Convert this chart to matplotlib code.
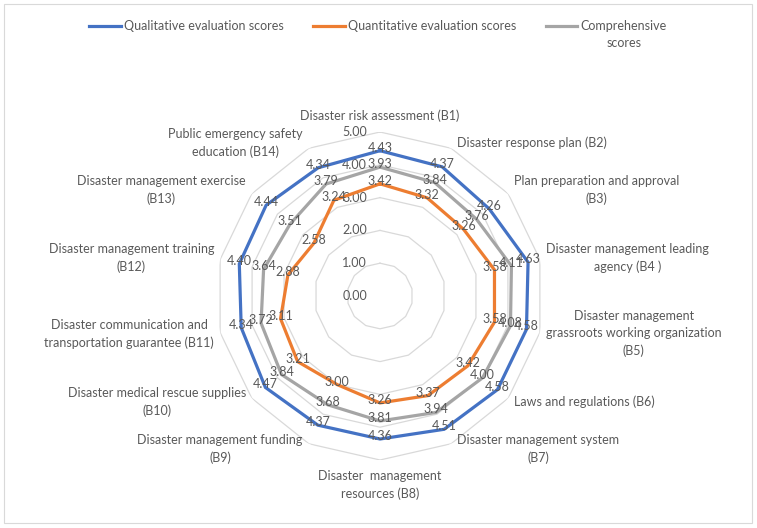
import numpy as np
import matplotlib
matplotlib.use('Agg')
import matplotlib.pyplot as plt
from matplotlib.lines import Line2D
from matplotlib.patches import Rectangle

plt.rcParams['font.family'] = ['Lato', 'DejaVu Sans']

# indicators, clockwise from the top
categories = [
    'Disaster risk assessment (B1)',
    'Disaster response plan (B2)',
    'Plan preparation and approval\n(B3)',
    'Disaster management leading\nagency (B4 )',
    'Disaster management\ngrassroots working organization\n(B5)',
    'Laws and regulations (B6)',
    'Disaster management system\n(B7)',
    'Disaster  management\nresources (B8)',
    'Disaster management funding\n(B9)',
    'Disaster medical rescue supplies\n(B10)',
    'Disaster communication and\ntransportation guarantee (B11)',
    'Disaster management training\n(B12)',
    'Disaster management exercise\n(B13)',
    'Public emergency safety\neducation (B14)',
]
qualitative = [4.43, 4.37, 4.26, 4.63, 4.58, 4.58, 4.51, 4.36, 4.37, 4.47, 4.34, 4.40, 4.44, 4.34]
quantitative = [3.42, 3.32, 3.26, 3.58, 3.58, 3.42, 3.37, 3.26, 3.00, 3.21, 3.11, 2.88, 2.58, 3.24]
comprehensive = [3.93, 3.84, 3.76, 4.11, 4.08, 4.00, 3.94, 3.81, 3.68, 3.84, 3.72, 3.64, 3.51, 3.79]
ring_values = [0, 1, 2, 3, 4, 5]

series = [
    ('Qualitative evaluation scores', qualitative, '#4472C4'),
    ('Quantitative evaluation scores', quantitative, '#ED7D31'),
    ('Comprehensive', comprehensive, '#A5A5A5'),
]

txt = '#595959'
fs = 9
px = 72 / 100  # pixel -> points

W, H = 757, 528
fig = plt.figure(figsize=(W / 100, H / 100), dpi=100)
cx, cy, R = 380, 296, 164
ax = fig.add_axes([(cx - R) / W, (H - cy - R) / H, 2 * R / W, 2 * R / H], projection='polar')
ax.set_theta_zero_location('N')
ax.set_theta_direction(-1)
ax.set_ylim(0, 5)
ax.set_xticks([])
ax.set_yticks([])
ax.grid(False)
ax.spines['polar'].set_visible(False)
ax.patch.set_visible(False)

n = len(categories)
ang = np.linspace(0, 2 * np.pi, n, endpoint=False)
ang_c = np.append(ang, ang[0])

# polygon grid rings
for r in ring_values[1:]:
    ax.plot(ang_c, [r] * (n + 1), color='#d9d9d9', lw=0.9, zorder=1)

# radial axis labels
for r in ring_values:
    ax.annotate('%.2f' % r, xy=(0, r), xytext=(-13 * px, 0), textcoords='offset points',
                ha='right', va='center', fontsize=fs, color=txt, zorder=2)

# series
for name, vals, col in series:
    v = np.append(vals, vals[0])
    ax.plot(ang_c, v, color=col, lw=2.3, zorder=3, solid_joinstyle='miter')

for name, vals, col in series:
    for a, val in zip(ang, vals):
        ax.annotate('%.2f' % val, xy=(a, val), xytext=(0, 3 * px), textcoords='offset points',
                    ha='center', va='center', fontsize=fs, color=txt, zorder=4)

# category labels
for a, lab in zip(ang, categories):
    s, c = np.sin(a), np.cos(a)
    if abs(s) < 0.1:
        ha = 'center'
        va = 'bottom' if c > 0 else 'top'
        off = (0, 10 * px if c > 0 else -10 * px)
    else:
        ha = 'left' if s > 0 else 'right'
        va = 'center'
        off = (6 * px * np.sign(s), 6 * c * px)
    ax.annotate(lab, xy=(a, 5), xytext=off, textcoords='offset points', ha=ha, va=va,
                multialignment='center', fontsize=fs, color=txt, linespacing=1.5, annotation_clip=False)

# legend
handles = [Line2D([0], [0], color=col, lw=2.3) for _, _, col in series]
leg = fig.legend(handles, [s[0] for s in series], loc='center', bbox_to_anchor=(378 / W, 1 - 26 / H),
                 ncol=3, frameon=False, fontsize=fs, labelcolor=txt, handlelength=2.5, handletextpad=0.25,
                 columnspacing=2.4, borderaxespad=0, borderpad=0)

# second line of the last legend entry
fig.canvas.draw()
bb = leg.get_texts()[2].get_window_extent().transformed(fig.transFigure.inverted())
fig.text((bb.x0 + bb.x1) / 2, bb.y0 - 17 / H + (bb.y1 - bb.y0) / 2, 'scores', ha='center', va='center',
         fontsize=fs, color=txt)

fig.patches.append(Rectangle((4 / W, 5 / H), 748 / W, 519 / H, transform=fig.transFigure,
                             fill=False, edgecolor='#d9d9d9', lw=0.8))

fig.savefig('out.png', dpi=100)
